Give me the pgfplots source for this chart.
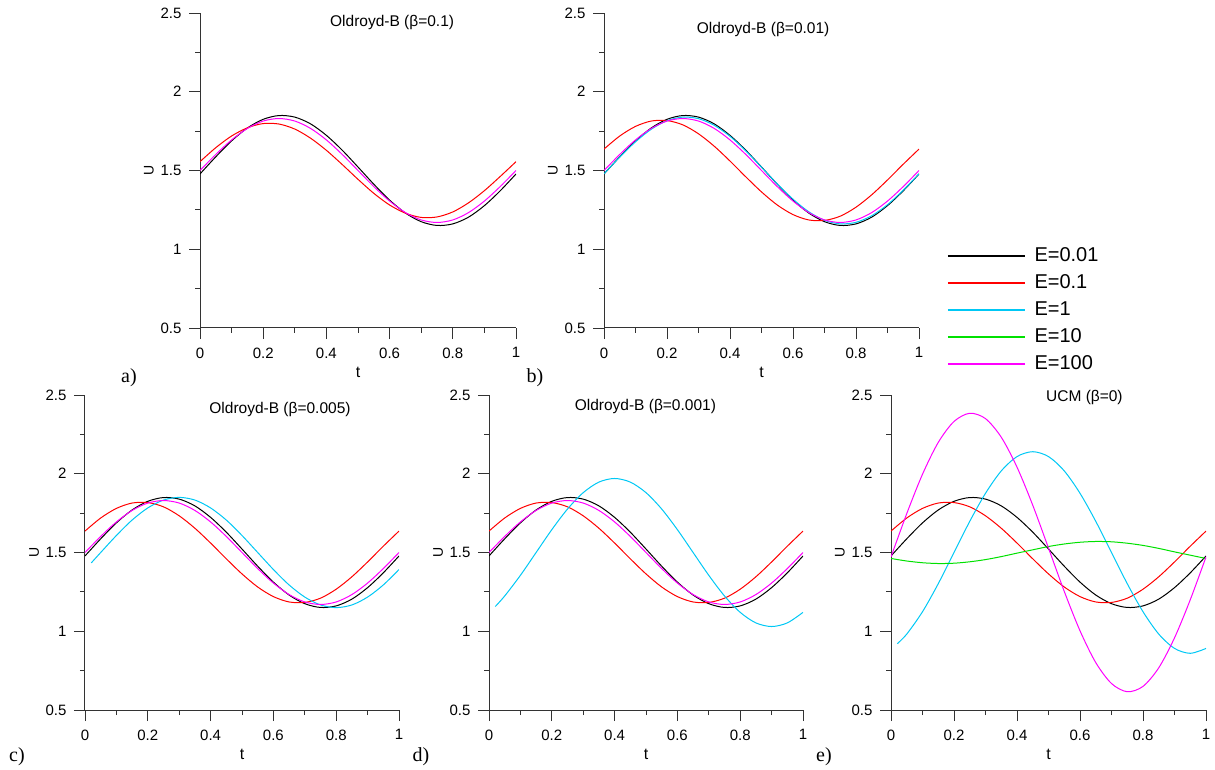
\documentclass[border=0pt]{standalone}
\usepackage{pgfplots}
\pgfplotsset{compat=1.18}
\usepackage{pgfplotstable}
\usepackage{fontspec}
\setmainfont{Liberation Sans}
\newfontfamily\serifl{Liberation Serif}

\definecolor{cyanL}{RGB}{0,200,245}
\definecolor{greenL}{RGB}{0,225,0}
\definecolor{magL}{RGB}{255,0,255}
\definecolor{redL}{RGB}{255,0,0}

% E=0.01 (same in all panels)
\pgfplotstableread{
t U
0 1.478
0.05 1.587
0.1 1.688
0.15 1.770
0.2 1.825
0.25 1.849
0.3 1.839
0.35 1.796
0.4 1.723
0.45 1.629
0.5 1.522
0.55 1.413
0.6 1.312
0.65 1.230
0.7 1.175
0.75 1.151
0.8 1.161
0.85 1.204
0.9 1.277
0.95 1.371
1 1.478
}\blackK
% E=100 in panels a-d
\pgfplotstableread{
t U
0 1.500
0.05 1.602
0.1 1.694
0.15 1.767
0.2 1.814
0.25 1.830
0.3 1.814
0.35 1.767
0.4 1.694
0.45 1.602
0.5 1.500
0.55 1.398
0.6 1.306
0.65 1.233
0.7 1.186
0.75 1.170
0.8 1.186
0.85 1.233
0.9 1.306
0.95 1.398
1 1.500
}\magM
% E=0.1 in panel a
\pgfplotstableread{
t U
0 1.556
0.05 1.645
0.1 1.719
0.15 1.771
0.2 1.798
0.25 1.795
0.3 1.763
0.35 1.705
0.4 1.628
0.45 1.538
0.5 1.444
0.55 1.355
0.6 1.281
0.65 1.229
0.7 1.202
0.75 1.205
0.8 1.237
0.85 1.295
0.9 1.372
0.95 1.462
1 1.556
}\redA
% E=0.1 in panels b-e
\pgfplotstableread{
t U
0 1.636
0.05 1.719
0.1 1.780
0.15 1.814
0.2 1.817
0.25 1.790
0.3 1.733
0.35 1.654
0.4 1.560
0.45 1.460
0.5 1.364
0.55 1.281
0.6 1.220
0.65 1.186
0.7 1.183
0.75 1.210
0.8 1.267
0.85 1.346
0.9 1.440
0.95 1.540
1 1.636
}\redB
% E=1 panel b
\pgfplotstableread{
t U
0 1.479
0.05 1.585
0.1 1.682
0.15 1.762
0.2 1.816
0.25 1.839
0.3 1.829
0.35 1.787
0.4 1.717
0.45 1.625
0.5 1.521
0.55 1.415
0.6 1.318
0.65 1.238
0.7 1.184
0.75 1.161
0.8 1.171
0.85 1.213
0.9 1.283
0.95 1.375
1 1.479
}\cyanB
% E=1 panel c
\pgfplotstableread{
t U
0.02 1.434
0.05 1.500
0.1 1.608
0.15 1.706
0.2 1.783
0.25 1.833
0.3 1.850
0.35 1.833
0.4 1.783
0.45 1.706
0.5 1.608
0.55 1.500
0.6 1.392
0.65 1.294
0.7 1.217
0.75 1.167
0.8 1.150
0.85 1.167
0.9 1.217
0.95 1.294
1 1.392
}\cyanC
% E=1 panel d
\pgfplotstableread{
t U
0.02 1.157
0.05 1.224
0.1 1.355
0.15 1.500
0.2 1.645
0.25 1.776
0.3 1.880
0.35 1.947
0.4 1.970
0.45 1.947
0.5 1.880
0.55 1.776
0.6 1.645
0.65 1.500
0.7 1.355
0.75 1.224
0.8 1.120
0.85 1.053
0.9 1.030
0.95 1.053
1 1.120
}\cyanD
% E=1 panel e
\pgfplotstableread{
t U
0.02 0.921
0.05 0.982
0.1 1.124
0.15 1.302
0.2 1.500
0.25 1.698
0.3 1.876
0.35 2.018
0.4 2.109
0.45 2.140
0.5 2.109
0.55 2.018
0.6 1.876
0.65 1.698
0.7 1.500
0.75 1.302
0.8 1.124
0.85 0.982
0.9 0.891
0.95 0.860
1 0.891
}\cyanE
% E=10 panel e
\pgfplotstableread{
t U
0 1.462
0.05 1.446
0.1 1.435
0.15 1.430
0.2 1.432
0.25 1.441
0.3 1.455
0.35 1.474
0.4 1.496
0.45 1.517
0.5 1.538
0.55 1.554
0.6 1.565
0.65 1.570
0.7 1.568
0.75 1.559
0.8 1.545
0.85 1.526
0.9 1.504
0.95 1.483
1 1.462
}\greenE
% E=100 panel e
\pgfplotstableread{
t U
0 1.472
0.05 1.747
0.1 1.997
0.15 2.199
0.2 2.332
0.25 2.384
0.3 2.350
0.35 2.232
0.4 2.042
0.45 1.800
0.5 1.528
0.55 1.253
0.6 1.003
0.65 0.801
0.7 0.668
0.75 0.616
0.8 0.650
0.85 0.768
0.9 0.958
0.95 1.200
1 1.472
}\magE

\pgfplotsset{
  panel/.style={
    scale only axis, width=315pt, height=315pt,
    anchor=south west,
    xmin=0, xmax=1, ymin=0.5, ymax=2.5,
    axis lines=left,
    axis line style={-, line width=1pt, black!80},
    xtick={0,0.2,0.4,0.6,0.8,1},
    ytick={0.5,1,1.5,2,2.5},
    minor x tick num=1, minor y tick num=1,
    tick align=outside,
    major tick length=11pt, minor tick length=5pt,
    every tick/.style={line width=0.9pt, black!80},
    ticklabel style={font=\fontsize{15}{18}\selectfont},
    xticklabel shift=5pt,
    yticklabel shift=4pt,
    /pgf/number format/assume math mode=true,
    xlabel={t}, ylabel={U},
    xlabel style={at={(axis description cs:0.5,-0.14)}, anchor=center, font=\fontsize{16}{18}\selectfont},
    ylabel style={at={(axis description cs:-0.162,0.5)}, anchor=center, rotate=0, font=\fontsize{14}{16}\selectfont},
    title style={anchor=center, font=\fontsize{15.5}{18}\selectfont},
    every axis plot/.append style={line width=1pt, smooth, no markers},
  }
}

\begin{document}
\begin{tikzpicture}
\path[use as bounding box] (0pt,0pt) rectangle (1215pt,769pt);

% a)
\begin{axis}[panel, at={(200pt,441pt)}, width=316pt,
  title={Oldroyd-B (β=0.1)}, title style={at={(axis description cs:0.608,0.952)}}]
\addplot[black] table[x=t,y=U] {\blackK};
\addplot[redL] table[x=t,y=U] {\redA};
\addplot[magL] table[x=t,y=U] {\magM};
\end{axis}

% b)
\begin{axis}[panel, at={(604pt,441pt)},
  title={Oldroyd-B (β=0.01)}, title style={at={(axis description cs:0.505,0.93)}},
  legend cell align=left,
  legend image code/.code={\draw[#1, line width=1.5pt, line cap=butt] (0pt,0pt) -- (77pt,0pt);},
  legend style={at={(axis description cs:1.0889,0.2565)}, anchor=north west,
    draw=none, fill=none, inner sep=0pt, outer sep=0pt,
    font=\fontsize{20}{22}\selectfont, row sep=9pt,
    nodes={inner sep=0pt, text height=14pt, text depth=4pt},
    /tikz/every odd column/.append style={column sep=9pt}}]
\addlegendimage{draw=black}
\addlegendentry{E=0.01}
\addlegendimage{draw=redL}
\addlegendentry{E=0.1}
\addlegendimage{draw=cyanL}
\addlegendentry{E=1}
\addlegendimage{draw=greenL}
\addlegendentry{E=10}
\addlegendimage{draw=magL}
\addlegendentry{E=100}
\addplot[black, forget plot] table[x=t,y=U] {\blackK};
\addplot[redL, forget plot] table[x=t,y=U] {\redB};
\addplot[cyanL, forget plot] table[x=t,y=U] {\cyanB};
\addplot[magL, forget plot] table[x=t,y=U] {\magM};
\end{axis}

% c)
\begin{axis}[panel, at={(85pt,59pt)}, width=314pt,
  title={Oldroyd-B (β=0.005)}, title style={at={(axis description cs:0.621,0.935)}}]
\addplot[black] table[x=t,y=U] {\blackK};
\addplot[redL] table[x=t,y=U] {\redB};
\addplot[cyanL] table[x=t,y=U] {\cyanC};
\addplot[magL] table[x=t,y=U] {\magM};
\end{axis}

% d)
\begin{axis}[panel, at={(489pt,59pt)}, width=314pt,
  title={Oldroyd-B (β=0.001)}, title style={at={(axis description cs:0.498,0.943)}}]
\addplot[black] table[x=t,y=U] {\blackK};
\addplot[redL] table[x=t,y=U] {\redB};
\addplot[cyanL] table[x=t,y=U] {\cyanD};
\addplot[magL] table[x=t,y=U] {\magM};
\end{axis}

% e)
\begin{axis}[panel, at={(891pt,59pt)},
  title={UCM (β=0)}, title style={at={(axis description cs:0.614,0.973)}}]
\addplot[black] table[x=t,y=U] {\blackK};
\addplot[redL] table[x=t,y=U] {\redB};
\addplot[cyanL] table[x=t,y=U] {\cyanE};
\addplot[greenL] table[x=t,y=U] {\greenE};
\addplot[magL] table[x=t,y=U] {\magE};
\end{axis}

\node[font=\serifl\fontsize{20}{22}\selectfont] at (129pt,391pt) {a)};
\node[font=\serifl\fontsize{20}{22}\selectfont] at (535pt,391pt) {b)};
\node[font=\serifl\fontsize{20}{22}\selectfont] at (17pt,12pt) {c)};
\node[font=\serifl\fontsize{20}{22}\selectfont] at (421pt,12pt) {d)};
\node[font=\serifl\fontsize{20}{22}\selectfont] at (824pt,12pt) {e)};
\end{tikzpicture}
\end{document}
